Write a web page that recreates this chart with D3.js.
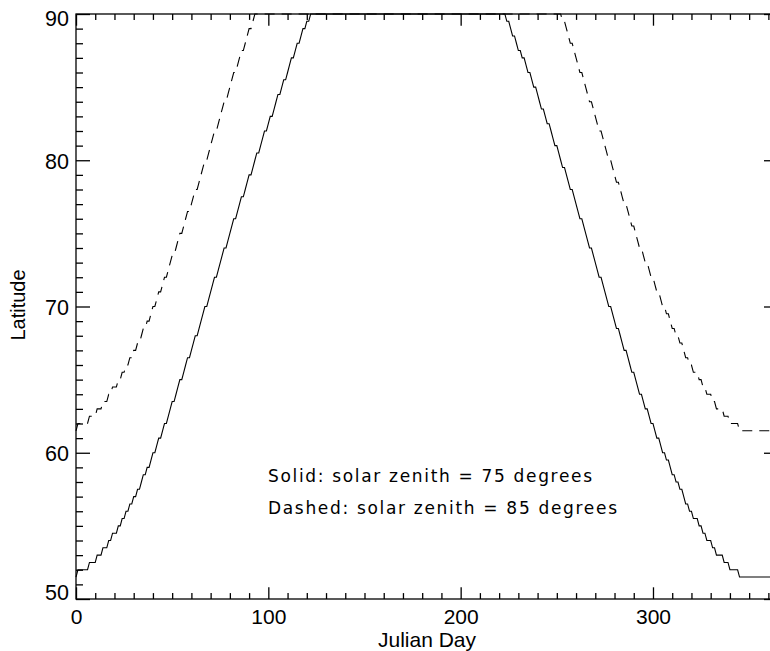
<!DOCTYPE html>
<html>
<head>
<meta charset="utf-8">
<script src="https://cdn.jsdelivr.net/npm/d3@7"></script>
<style>
body { margin: 0; background: #fff; }
</style>
</head>
<body>
<script>
// latitude steps (0.5 deg) and the day on which each step is reached
const solidLevels = [52, 52.5, 53, 53.5, 54, 54.5, 55, 55.5, 56, 56.5, 57, 57.5, 58, 58.5, 59, 59.5,
  60, 60.5, 61, 61.5, 62, 62.5, 63, 63.5, 64, 64.5, 65, 65.5, 66, 66.5, 67, 67.5, 68, 68.5, 69, 69.5,
  70, 70.5, 71, 71.5, 72, 72.5, 73, 73.5, 74, 74.5, 75, 75.5, 76, 76.5, 77, 77.5, 78, 78.5, 79, 79.5,
  80, 80.5, 81, 81.5, 82, 82.5, 83, 83.5, 84, 84.5, 85, 85.5, 86, 86.5, 87, 87.5, 88, 88.5, 89, 89.5, 90];
const solidRiseDays = [1, 7, 11, 14, 17, 19, 22, 24, 26, 28,
  30, 32, 34, 35, 37, 39, 40, 42, 43, 45,
  46, 48, 49, 50, 52, 53, 54, 56, 57, 58,
  60, 61, 62, 64, 65, 66, 67, 69, 70, 71,
  72, 74, 75, 76, 77, 79, 80, 81, 82, 84,
  85, 86, 88, 89, 90, 92, 93, 94, 96, 97,
  98, 100, 101, 103, 104, 105, 107, 108, 110, 111,
  112, 114, 115, 117, 118, 120, 122];
// days the line drops below each level, from 90 going down
const solidFallDays = [224, 226, 227, 229, 230, 232, 234, 235, 237, 238,
  240, 241, 242, 244, 245, 247, 248, 249, 251, 252,
  253, 255, 256, 257, 259, 260, 261, 262, 264, 265,
  266, 267, 269, 270, 271, 272, 274, 275, 276, 277,
  279, 280, 281, 283, 284, 285, 287, 288, 289, 291,
  292, 293, 295, 296, 298, 299, 301, 302, 304, 305,
  307, 309, 310, 312, 314, 316, 317, 319, 321, 324,
  326, 328, 331, 333, 337, 340, 345];
const solidFloor = 51.5;

const dashedLevels = [62, 62.5, 63, 63.5, 64, 64.5, 65, 65.5, 66, 66.5, 67, 67.5, 68, 68.5, 69, 69.5,
  70, 70.5, 71, 71.5, 72, 72.5, 73, 73.5, 74, 74.5, 75, 75.5, 76, 76.5, 77, 77.5, 78, 78.5, 79, 79.5,
  80, 80.5, 81, 81.5, 82, 82.5, 83, 83.5, 84, 84.5, 85, 85.5, 86, 86.5, 87, 87.5, 88, 88.5, 89, 89.5, 90];
const dashedRiseDays = [1, 7, 11, 14, 17, 19, 22, 24, 26, 28,
  30, 32, 34, 35, 37, 39, 40, 42, 43, 45,
  46, 48, 49, 50, 52, 53, 54, 56, 57, 58,
  60, 61, 62, 64, 65, 66, 67, 69, 70, 71,
  72, 74, 75, 76, 77, 79, 80, 81, 82, 84,
  85, 86, 88, 89, 90, 92, 93];
const dashedFallDays = [253, 255, 256, 257, 259, 260, 261, 262, 264, 265,
  266, 267, 269, 270, 271, 272, 274, 275, 276, 277,
  279, 280, 281, 283, 284, 285, 287, 288, 289, 291,
  292, 293, 295, 296, 298, 299, 301, 302, 304, 305,
  307, 309, 310, 312, 314, 316, 317, 319, 321, 324,
  326, 328, 331, 333, 337, 340, 345];
const dashedFloor = 61.5;

const xMajor = [0, 100, 200, 300];
const yMajor = [50, 60, 70, 80, 90];
const notes = ["Solid: solar zenith = 75 degrees", "Dashed: solar zenith = 85 degrees"];

const W = 770, H = 651;
const svg = d3.select("body").append("svg").attr("width", W).attr("height", H)
  .style("background", "#fff");

const x = d3.scaleLinear().domain([0, 365]).range([76, 778]);
const y = d3.scaleLinear().domain([50, 90]).range([599, 14]);

function stairs(levels, rise, fall, floor) {
  const pts = [[0, floor]];
  let prev = floor;
  levels.forEach((lat, i) => {
    pts.push([rise[i] - 1, prev], [rise[i], lat]);
    prev = lat;
  });
  const down = levels.slice().reverse();
  down.forEach((lat, i) => {
    const below = i < down.length - 1 ? down[i + 1] : floor;
    pts.push([fall[i] - 1, lat], [fall[i], below]);
  });
  pts.push([365, floor]);
  return pts;
}

const line = d3.line().x(d => x(d[0])).y(d => y(d[1]));

svg.append("path")
  .attr("d", line(stairs(solidLevels, solidRiseDays, solidFallDays, solidFloor)))
  .attr("fill", "none").attr("stroke", "#000").attr("stroke-width", 1.1);

svg.append("path")
  .attr("d", line(stairs(dashedLevels, dashedRiseDays, dashedFallDays, dashedFloor)))
  .attr("fill", "none").attr("stroke", "#000").attr("stroke-width", 1.1)
  .attr("stroke-dasharray", "10,7");

// axes
const xMinor = d3.range(0, 365, 10).filter(v => !xMajor.includes(v));
const yMinor = d3.range(50, 91, 1).filter(v => !yMajor.includes(v));
const font = "'Liberation Sans', Arial, Helvetica, sans-serif";

function styleAxis(g) {
  g.select(".domain").remove();
  g.selectAll(".tick line").attr("stroke", "#000").attr("stroke-width", 1.3);
}

// bottom
svg.append("g").attr("transform", "translate(0,599)")
  .call(d3.axisBottom(x).tickValues(xMinor).tickSize(-5.9).tickFormat(""))
  .call(styleAxis);
svg.append("g").attr("transform", "translate(0,599)")
  .call(d3.axisBottom(x).tickValues(xMajor).tickSize(-11.7).tickPadding(10.5).tickFormat(d3.format("d")))
  .call(styleAxis)
  .call(g => g.selectAll("text").attr("font-family", font).attr("font-size", 21).attr("fill", "#000"));
// top
svg.append("g").attr("transform", "translate(0,14)")
  .call(d3.axisTop(x).tickValues(xMinor).tickSize(-5.9).tickFormat(""))
  .call(styleAxis);
svg.append("g").attr("transform", "translate(0,14)")
  .call(d3.axisTop(x).tickValues(xMajor).tickSize(-11.7).tickFormat(""))
  .call(styleAxis);
// left
svg.append("g").attr("transform", "translate(76,0)")
  .call(d3.axisLeft(y).tickValues(yMinor).tickSize(-7).tickFormat(""))
  .call(styleAxis);
svg.append("g").attr("transform", "translate(76,0)")
  .call(d3.axisLeft(y).tickValues(yMajor).tickSize(-14).tickPadding(7).tickFormat(d3.format("d")))
  .call(styleAxis)
  .call(g => g.selectAll("text").attr("font-family", font).attr("font-size", 21.5).attr("fill", "#000")
    .attr("dy", d => d === 90 ? "0.55em" : d === 50 ? "0em" : "0.36em"));
// right
svg.append("g").attr("transform", "translate(778,0)")
  .call(d3.axisRight(y).tickValues(yMinor).tickSize(-7).tickFormat(""))
  .call(styleAxis);
svg.append("g").attr("transform", "translate(778,0)")
  .call(d3.axisRight(y).tickValues(yMajor).tickSize(-14).tickFormat(""))
  .call(styleAxis);

// frame
svg.append("rect")
  .attr("x", x(0)).attr("y", y(90))
  .attr("width", x(365) - x(0)).attr("height", y(50) - y(90))
  .attr("fill", "none").attr("stroke", "#000").attr("stroke-width", 1.3);

// titles
svg.append("text").attr("x", (x(0) + x(365)) / 2).attr("y", 647.3)
  .attr("text-anchor", "middle").attr("font-family", font).attr("font-size", 21)
  .text("Julian Day");
svg.append("text").attr("transform", "translate(25,305) rotate(-90)")
  .attr("text-anchor", "middle").attr("font-family", font).attr("font-size", 20)
  .text("Latitude");

// annotation
const noteWidths = [324, 349];
notes.forEach((t, i) => {
  svg.append("text")
    .attr("x", 268).attr("y", 482 + i * 32)
    .attr("font-family", "'DejaVu Sans', sans-serif")
    .attr("font-size", 17).attr("fill", "#000")
    .attr("textLength", noteWidths[i]).attr("lengthAdjust", "spacing")
    .text(t);
});
</script>
</body>
</html>
